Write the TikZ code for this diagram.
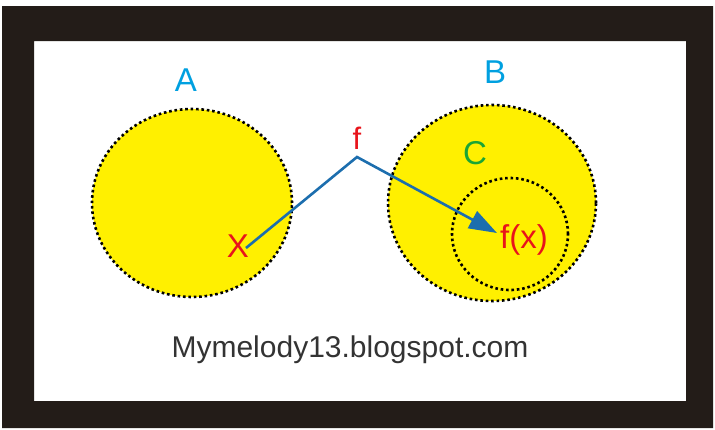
\documentclass[tikz,border=0pt]{standalone}
\usepackage{fontspec}
\setmainfont{Liberation Sans}
\usetikzlibrary{positioning, arrows.meta, shapes.geometric}
\definecolor{cFRAME}{HTML}{231C18}
\definecolor{cSET}{HTML}{FFF000}
\definecolor{cLAB}{HTML}{00A0E0}
\definecolor{cRED}{HTML}{E8141B}
\definecolor{cGRN}{HTML}{1AA535}
\definecolor{cMAP}{HTML}{1C6EAE}
\tikzset{
  setbox/.style={
    ellipse,
    draw=black,
    line width=2.6pt,
    dash pattern=on 2.6pt off 2.8pt,
    fill=cSET,
    inner sep=0pt
  },
  subset/.style={
    ellipse,
    draw=black,
    line width=2.6pt,
    dash pattern=on 2.6pt off 2.8pt,
    inner sep=0pt
  },
  setname/.style={
    font=\fontsize{33}{33}\selectfont,
    inner sep=0pt
  },
  mapping/.style={
    -{Triangle[length=28pt,width=19pt]},
    line width=2.6pt,
    draw=cMAP
  }
}

\begin{document}
\begin{tikzpicture}[x=1pt, y=-1pt]
  \useasboundingbox (0,0) rectangle (715,429);
  % frame
  \fill[cFRAME, even odd rule] (2,6) rectangle (713,428) (34,41) rectangle (686,401);

  % sets
  \node[setbox, minimum width=200pt, minimum height=188pt] (setA) at (192,203) {};
  \node[setbox, minimum width=208pt, minimum height=196pt] (setB) at (492,203) {};
  \node[subset, minimum width=116pt, minimum height=112pt] (setC) at (510,234) {};

  \node[setname, text=cLAB] (labA) at (186,80) {A};
  \node[setname, text=cLAB] (labB) at (495,72) {B};
  \node[setname, text=cGRN] (labC) at (475,153) {C};

  \node[setname, text=cRED, font=\fontsize{33}{33}\selectfont] (elx) at (238,246) {X};
  \node[setname, text=cRED, font=\fontsize{31}{31}\selectfont] (fname) at (357,138) {f};
  \node[setname, text=cRED, font=\fontsize{33}{33}\selectfont] (image) at (524,240) {f(x)};

  \coordinate (kink) at (357,157);
  \coordinate (tip) at (497,233);
  \draw[mapping] (elx.center) ++(8,2) -- (kink) -- (tip);

  \node[font=\fontsize{30}{30}\selectfont, text=black!80] (blog) at (350,350) {Mymelody13.blogspot.com};
\end{tikzpicture}
\end{document}
